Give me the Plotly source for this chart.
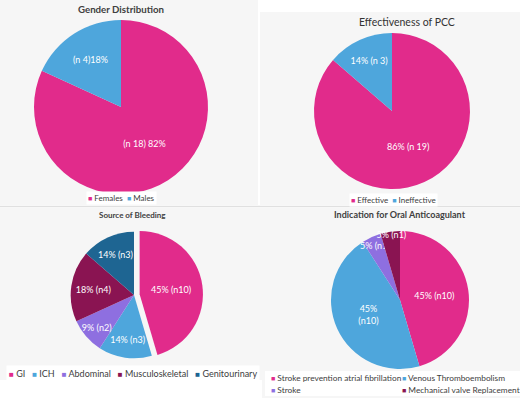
import plotly.graph_objects as go

W, H = 520, 398

# ---- data ----
gender_labels = ["Females", "Males"]
gender_values = [18, 4]
gender_text = ["(n 18) 82%", "(n 4)18%"]

pcc_labels = ["Effective", "Ineffective"]
pcc_values = [19, 3]
pcc_text = ["86% (n 19)", "14% (n 3)"]

bleed_labels = ["GI", "ICH", "Abdominal", "Musculoskeletal", "Genitourinary"]
bleed_values = [10, 3, 2, 4, 3]
bleed_text = ["45% (n10)", "14% (n3)", "9% (n2)", "18% (n4)", "14% (n3)"]

ind_labels = ["Stroke prevention atrial fibrillation", "Venous Thromboembolism",
              "Stroke", "Mechanical valve Replacement"]
ind_values = [10, 10, 1, 1]
ind_text = ["45% (n10)", "45%<br>(n10)", "5% (n1)", "5% (n1)<br>\u00a0"]

PINK = "#E12B8B"
BLUE = "#4EA6DC"
PURPLE = "#8E6FE0"
MAROON = "#8A1452"
DKBLUE = "#1E6592"
gender_colors = [PINK, BLUE]
pcc_colors = [PINK, BLUE]
bleed_colors = [PINK, BLUE, PURPLE, MAROON, DKBLUE]
ind_colors = [PINK, BLUE, PURPLE, MAROON]

FONT = "Lato"
TXT = "#404040"


def px_x(x):
    return x / W


def px_y(y):
    return 1 - y / H


def dom(x0, x1, y0, y1):
    return dict(x=[px_x(x0), px_x(x1)], y=[px_y(y1), px_y(y0)])


fig = go.Figure()


def add_pie(labels, values, text, colors, domain, pull=None):
    fig.add_trace(go.Pie(
        labels=labels, values=values, text=text,
        textinfo="text", textposition="inside", insidetextorientation="horizontal",
        sort=False, direction="clockwise", rotation=0,
        pull=pull,
        marker=dict(colors=colors, line=dict(width=0)),
        textfont=dict(color="white", size=9, family=FONT),
        domain=domain, showlegend=False,
        hoverinfo="label+value+percent",
    ))


add_pie(gender_labels, gender_values, gender_text, gender_colors, dom(34, 208, 20, 194))
add_pie(pcc_labels, pcc_values, pcc_text, pcc_colors, dom(314, 470, 33, 189))
add_pie(bleed_labels, bleed_values, bleed_text, bleed_colors, dom(65, 203, 226, 364),
        pull=[0.09, 0, 0, 0, 0])
add_pie(ind_labels, ind_values, ind_text, ind_colors, dom(330, 470, 231, 369))

panel_bg = "#f6f6f6"
shapes = []
for (x0, x1, y0, y1) in [(0, 258, 0, 205), (260, 520, 12, 205),
                         (0, 262, 208, 380), (262, 520, 208, 398)]:
    shapes.append(dict(type="rect", xref="paper", yref="paper",
                       x0=px_x(x0), x1=px_x(x1), y0=px_y(y1), y1=px_y(y0),
                       fillcolor=panel_bg, line=dict(width=0), layer="below"))
shapes.append(dict(type="line", xref="paper", yref="paper",
                   x0=0, x1=1, y0=px_y(206.5), y1=px_y(206.5),
                   line=dict(color="#e0e0e0", width=1.5), layer="below"))

annotations = [
    dict(text="<b>Gender Distribution</b>", x=px_x(121), y=px_y(9),
         font=dict(size=9.7, color=TXT, family=FONT)),
    dict(text="Effectiveness of PCC", x=px_x(407), y=px_y(22),
         font=dict(size=10.5, color="#333333", family=FONT)),
    dict(text="<b>Source of Bleeding</b>", x=px_x(132), y=px_y(215),
         font=dict(size=8, color=TXT, family=FONT)),
    dict(text="<b>Indication for Oral Anticoagulant</b>", x=px_x(400), y=px_y(215),
         font=dict(size=9, color=TXT, family=FONT)),
]
for a in annotations:
    a.update(xanchor="center")

NB = "\u00a0"


def entry(label, color, msize):
    return (f"<span style='color:{color};font-size:{msize}px'>■</span>{NB}{label}")


def legend_text(labels, colors, msize, gap=2):
    return (NB * gap).join(entry(l, c, msize) for l, c in zip(labels, colors))


# single-row legends (built from the category/colour arrays)
annotations.append(dict(text=legend_text(gender_labels, gender_colors, 7),
                        x=px_x(121), y=px_y(198), xanchor="center",
                        font=dict(size=8, color=TXT, family=FONT),
                        bgcolor="white", borderpad=1))
annotations.append(dict(text=legend_text(pcc_labels, pcc_colors, 7),
                        x=px_x(393), y=px_y(200), xanchor="center",
                        font=dict(size=8, color=TXT, family=FONT),
                        bgcolor="white", borderpad=1))
annotations.append(dict(text=legend_text(bleed_labels, bleed_colors, 8, gap=3),
                        x=px_x(133), y=px_y(373), xanchor="center",
                        font=dict(size=9, color=TXT, family=FONT),
                        bgcolor="white", borderpad=2))

# two-column legend for the indication chart
shapes.append(dict(type="rect", xref="paper", yref="paper",
                   x0=px_x(265), x1=px_x(520), y0=px_y(396), y1=px_y(371),
                   fillcolor="white", line=dict(width=0), layer="below"))
col_x = [269, 400]
row_y = [378, 390]
for i, (lab, col) in enumerate(zip(ind_labels, ind_colors)):
    annotations.append(dict(text=entry(lab, col, 7),
                            x=px_x(col_x[i % 2]), y=px_y(row_y[i // 2]),
                            xanchor="left",
                            font=dict(size=8.3, color=TXT, family=FONT)))

for a in annotations:
    a.update(xref="paper", yref="paper", showarrow=False, yanchor="middle")

fig.update_layout(
    width=W, height=H,
    margin=dict(l=0, r=0, t=0, b=0, autoexpand=False),
    paper_bgcolor="white",
    plot_bgcolor="white",
    showlegend=False,
    shapes=shapes,
    annotations=annotations,
    uniformtext=dict(minsize=9, mode="show"),
)

fig.write_html("out.html",
               config={"displayModeBar": False},
               post_script="document.body.style.margin='0';document.body.style.overflow='hidden';")
